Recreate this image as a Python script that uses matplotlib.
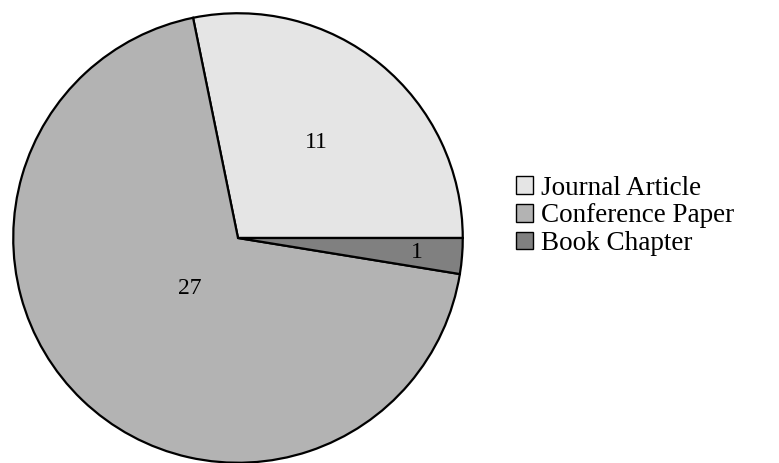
import matplotlib
matplotlib.use("Agg")
import matplotlib.pyplot as plt
import numpy as np
from matplotlib.patches import Patch

categories = ["Journal Article", "Conference Paper", "Book Chapter"]
values = [11, 27, 1]
colors = ["#e5e5e5", "#b3b3b3", "#808080"]
label_radius = [0.55, 0.31, 0.80]

plt.rcParams['font.family'] = ['Liberation Serif', 'DejaVu Serif']

fig = plt.figure(figsize=(7.79, 4.63), dpi=100)
W, H = 779, 463
cx, cy, R = 238, 463 - 238, 227
ax = fig.add_axes([(cx - R) / W, (cy - R) / H, 2 * R / W, 2 * R / H])
wedges, _ = ax.pie(values, colors=colors, startangle=0, counterclock=True,
                   wedgeprops=dict(edgecolor="black", linewidth=1.6))
ax.set_xlim(-1.01, 1.01)
ax.set_ylim(-1.01, 1.01)
ax.set_aspect("equal")
for w, v, r in zip(wedges, values, label_radius):
    ang = np.deg2rad((w.theta1 + w.theta2) / 2)
    ax.text(r * np.cos(ang), r * np.sin(ang), str(v), ha="center", va="center",
            fontsize=17)

handles = [Patch(facecolor=c, edgecolor="black", linewidth=1.0) for c in colors]
fig.legend(handles, categories, loc="center left", bbox_to_anchor=(505 / W, 1 - 216 / H),
           frameon=False, fontsize=19.5, handlelength=0.62, handleheight=0.62,
           handletextpad=0.3, labelspacing=0.1, borderaxespad=0)
fig.savefig("out.png", dpi=100)
